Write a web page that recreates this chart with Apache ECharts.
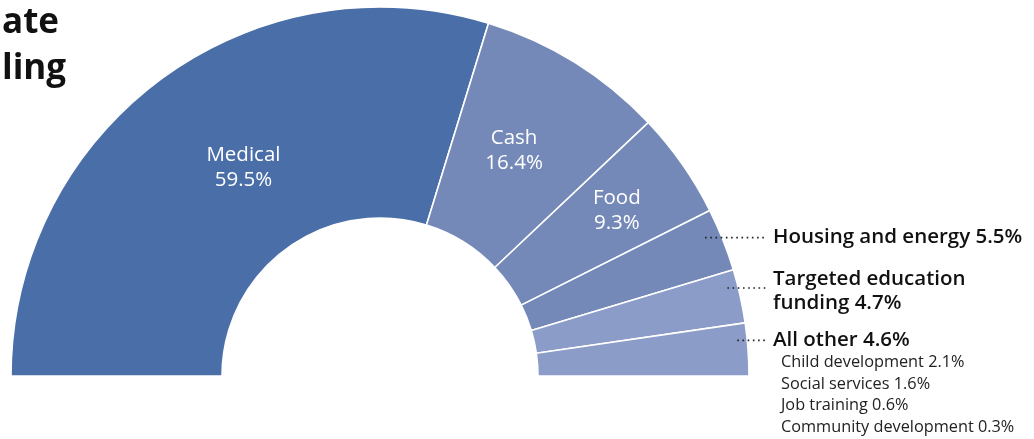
<!DOCTYPE html>
<html>
<head>
<meta charset="utf-8">
<script src="https://cdn.jsdelivr.net/npm/echarts@6/dist/echarts.min.js"></script>
<style>
  html, body { margin: 0; padding: 0; background: #fff; }
  #chart { width: 1034px; height: 439px; }
</style>
</head>
<body>
<div id="chart"></div>
<script>
// Spending shares by program (percent of total)
const categories = ['Medical', 'Cash', 'Food', 'Housing and energy', 'Targeted education funding', 'All other'];
const shares = [59.5, 16.4, 9.3, 5.5, 4.7, 4.6];
// Breakdown of the "All other" slice
const otherCategories = ['Child development', 'Social services', 'Job training', 'Community development'];
const otherShares = [2.1, 1.6, 0.6, 0.3];
const titleLines = ['ate', 'ling'];

// Geometry and style
const FONT = '"Open Sans", sans-serif';
const CX = 380, CY = 376, R0 = 158, R1 = 369;
const colors = ['#4a6ea7', '#7489b8', '#7489b8', '#7489b8', '#8a9cc7', '#8a9cc7'];
const insideIdx = [0, 1, 2];
// label nudges (px) relative to the slice's mid-angle anchor
const insideNudge = [[20, 4], [-5, -2], [21, -14]];
const outsideNudgeY = { 3: -2, 4: -8, 5: -9 };
const leaderInset = { 3: 17, 4: 11, 5: 10 };
const LABEL_X = 773, LEADER_END = 766;

const total = shares.reduce((a, b) => a + b, 0);
function midAngle(i) {
  let cum = 0;
  for (let k = 0; k < i; k++) cum += shares[k];
  return (180 - (cum + shares[i] / 2) / total * 180) * Math.PI / 180;
}
function fmt(v) { return v.toFixed(1) + '%'; }

const labelText = i => {
  const n = categories[i], v = fmt(shares[i]);
  if (i < 3) return n + '\n' + v;
  if (i === 3) return '{main|' + n + ' ' + v + '}';
  if (i === 4) return '{main|Targeted education}\n{main|funding ' + v + '}';
  const subs = otherCategories.map((c, k) => '{sub|' + c + ' ' + fmt(otherShares[k]) + '}');
  return ['{main|' + n + ' ' + v + '}'].concat(subs).join('\n');
};

// Base ring: coloured slices with the inside labels
const ringData = categories.map((name, i) => {
  const inside = insideIdx.includes(i);
  return {
    name, value: shares[i],
    itemStyle: { color: colors[i] },
    label: { show: inside }
  };
});

// Overlay ring: transparent slices carrying the outside labels and dotted leaders,
// so the leaders can run over the coloured slices
const overlayData = categories.map((name, i) => {
  const inside = insideIdx.includes(i);
  return {
    name, value: shares[i],
    itemStyle: { color: 'rgba(0,0,0,0)', borderWidth: 0 },
    label: { show: !inside },
    labelLine: { show: !inside }
  };
});

const common = {
  type: 'pie',
  center: [CX, CY],
  radius: [R0, R1],
  startAngle: 180,
  endAngle: 0,
  clockwise: true,
  avoidLabelOverlap: false
};

const chart = echarts.init(document.getElementById('chart'), null, { renderer: 'canvas' });
chart.setOption({
  animation: false,
  backgroundColor: '#fff',
  title: {
    text: titleLines.join('\n'),
    left: 2, top: 0, padding: 0,
    textStyle: { fontFamily: FONT, fontSize: 35, fontWeight: 700, color: '#111', lineHeight: 46 }
  },
  series: [
    Object.assign({}, common, {
      z: 2,
      itemStyle: { borderColor: '#fff', borderWidth: 1.6 },
      label: {
        position: 'inside',
        formatter: p => labelText(p.dataIndex),
        color: '#fff', fontSize: 20.5, lineHeight: 25, fontFamily: FONT, fontWeight: 500
      },
      labelLine: { show: false },
      labelLayout: function (p) {
        const i = p.dataIndex;
        const k = insideIdx.indexOf(i);
        if (k < 0) return {};
        const a = midAngle(i);
        const rm = (R0 + R1) / 2;
        return {
          x: CX + rm * Math.cos(a) + insideNudge[k][0],
          y: CY - rm * Math.sin(a) + insideNudge[k][1],
          align: 'center', verticalAlign: 'middle'
        };
      },
      data: ringData
    }),
    Object.assign({}, common, {
      z: 5,
      silent: true,
      label: {
        position: 'outside',
        align: 'left',
        formatter: p => labelText(p.dataIndex),
        fontFamily: FONT,
        rich: {
          main: { fontFamily: FONT, fontSize: 20.5, fontWeight: 600, color: '#111', lineHeight: 23.5 },
          sub: { fontFamily: FONT, fontSize: 16.3, color: '#222', lineHeight: 21.5, padding: [0, 0, 0, 8] }
        }
      },
      labelLine: {
        lineStyle: { color: '#222', width: 1.6, type: [1.6, 3.6] }
      },
      labelLayout: function (p) {
        const i = p.dataIndex;
        if (insideIdx.includes(i)) return {};
        const a = midAngle(i);
        const y = CY - R1 * Math.sin(a) + outsideNudgeY[i];
        const edgeX = CX + Math.sqrt(R1 * R1 - (CY - y) * (CY - y));
        const startX = edgeX - leaderInset[i];
        const res = {
          x: LABEL_X, align: 'left',
          labelLinePoints: [[startX, y], [(startX + LEADER_END) / 2, y], [LEADER_END, y]]
        };
        if (i === 5) { res.y = y - 11.75; res.verticalAlign = 'top'; }
        else if (i === 4) { res.y = y + 3; res.verticalAlign = 'middle'; }
        else { res.y = y; res.verticalAlign = 'middle'; }
        return res;
      },
      data: overlayData
    })
  ]
});
</script>
</body>
</html>
